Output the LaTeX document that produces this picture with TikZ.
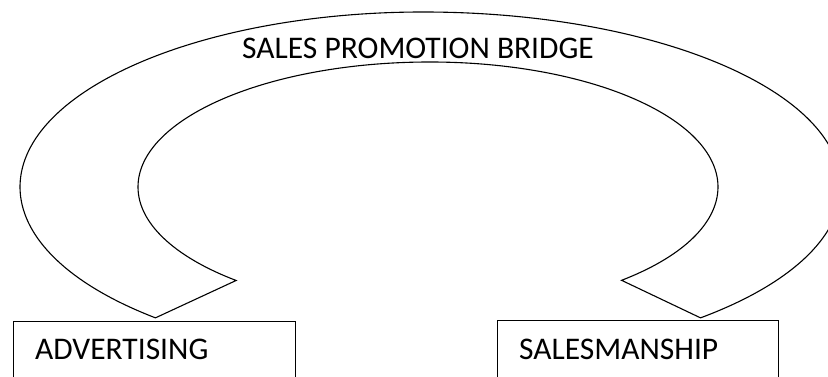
\documentclass[tikz,border=0pt]{standalone}
\usepackage{fontspec}
\setmainfont{Carlito}
\usetikzlibrary{calc}
\tikzset{
  bridgeline/.style={draw=black, line width=1.1pt, line join=miter},
  boxnode/.style={draw=black, line width=1pt, anchor=north west, inner sep=0pt, minimum height=90pt},
  lbl/.style={anchor=base west, inner sep=0pt, font=\fontsize{31.5}{38}\selectfont}
}
\begin{document}
\begin{tikzpicture}[x=1pt,y=1pt]
  \useasboundingbox (0,0) rectangle (828,377);
  \clip (0,0) rectangle (828,377);
  \coordinate (oc) at (423,190);
  \coordinate (ic) at (430,190);
  % bridge band
  \path[bridgeline]
    ($(oc)+(228.4:403pt and 175pt)$)
      arc[start angle=228.4, end angle=90, x radius=403pt, y radius=175pt]
      arc[start angle=90, end angle=-48.4, x radius=418pt, y radius=175pt]
    -- ($(ic)+(-48.3:288pt and 125pt)$)
      arc[start angle=-48.3, end angle=90, x radius=288pt, y radius=125pt]
      arc[start angle=90, end angle=228.4, x radius=292pt, y radius=125pt]
    -- cycle;
  \node[lbl] (title) at (242,318.7) {SALES PROMOTION BRIDGE};
  % boxes
  \node[boxnode, minimum width=282pt] (adv) at (13,56) {};
  \node[lbl] (advtext) at (35,17) {ADVERTISING};
  \node[boxnode, minimum width=281pt] (sales) at (497,57) {};
  \node[lbl] (salestext) at (519,17) {SALESMANSHIP};
\end{tikzpicture}
\end{document}
